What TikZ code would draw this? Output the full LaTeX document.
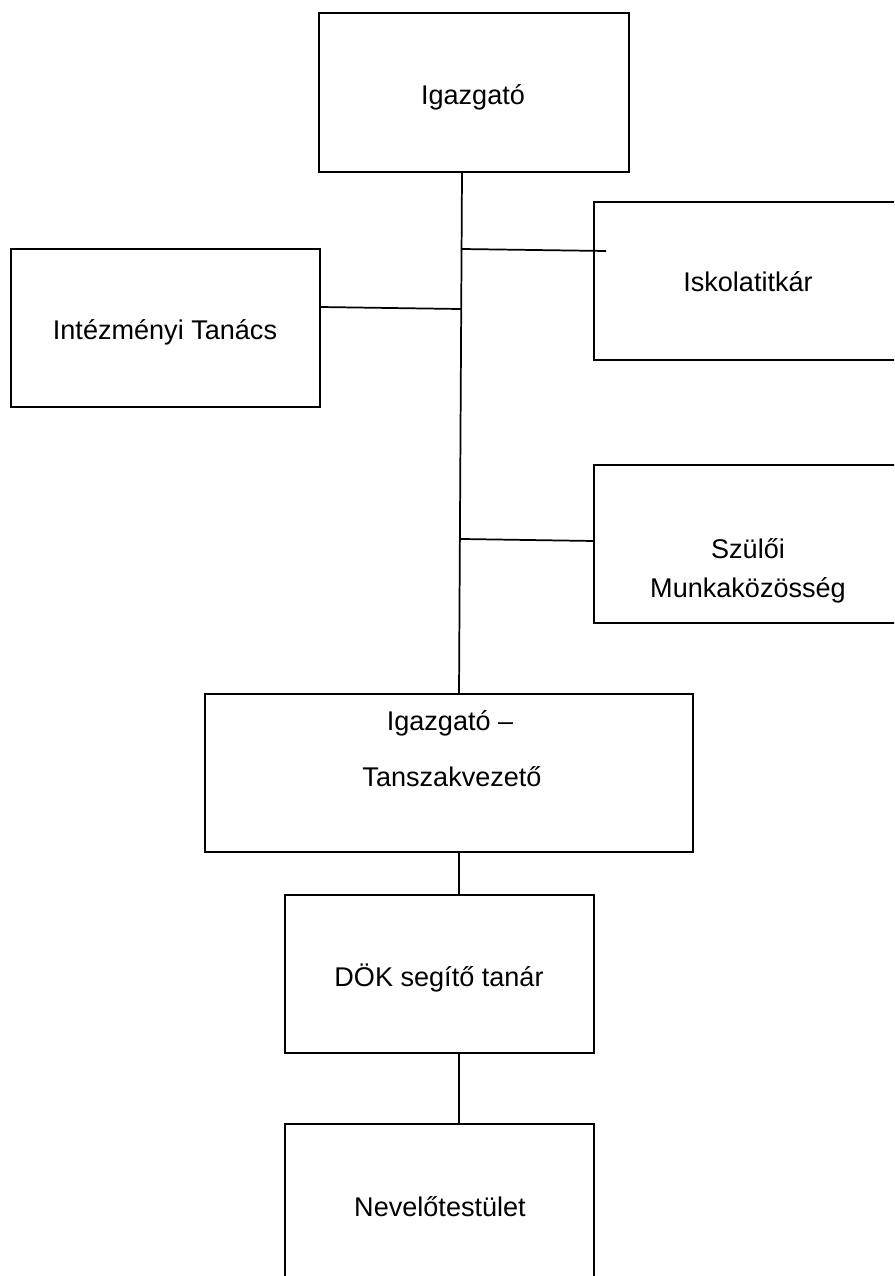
\documentclass[tikz,border=0pt]{standalone}
\usepackage{fontspec}
\setmainfont{Liberation Sans}
\begin{document}
\begin{tikzpicture}[x=0.75pt,y=-0.75pt,
  box/.style={draw, line width=1.3pt, anchor=north west, inner sep=0pt, outer sep=0pt, minimum height=118.5pt},
  lbl/.style={anchor=base, inner sep=0pt, font=\fontsize{20.3pt}{24pt}\selectfont},
  conn/.style={line width=1.3pt}]
\useasboundingbox (0,0) rectangle (894,1276);
\clip (0,0) rectangle (894,1276);
\fill[white] (0,0) rectangle (894,1276);
% boxes
\node[box, minimum width=232.5pt, minimum height=119.25pt] (igaz) at (319,13) {};
\node[box, minimum width=232.5pt] (isk) at (594,202) {};
\node[box, minimum width=231.75pt] (intez) at (11,249) {};
\node[box, minimum width=232.5pt] (szul) at (594,465) {};
\node[box, minimum width=366pt] (it) at (205,694) {};
\node[box, minimum width=231.75pt] (dok) at (285,895) {};
\node[box, minimum width=231.75pt] (nev) at (285,1124) {};
% labels
\node[lbl] (igazT) at (473,105) {Igazgató};
\node[lbl] (iskT) at (748,292) {Iskolatitkár};
\node[lbl] (intezT) at (165,340) {Intézményi Tanács};
\node[lbl] (szulT1) at (748,558) {Szülői};
\node[lbl] (szulT2) at (748,597) {Munkaközösség};
\node[lbl] (itT1) at (450,730) {Igazgató –};
\node[lbl] (itT2) at (452,786) {Tanszakvezető};
\node[lbl] (dokT) at (439,986) {DÖK segítő tanár};
\node[lbl] (nevT) at (440,1216) {Nevelőtestület};
% connectors
\draw[conn] ([xshift=-9pt]igaz.south) --
  coordinate[pos=0.1475] (bIsk)
  coordinate[pos=0.2625] (bInt)
  coordinate[pos=0.703] (bSzul)
  ([xshift=7.5pt]it.north);
\coordinate (iskEnd) at (606,251);
\draw[conn] (bIsk) -- (iskEnd);
\draw[conn] ([yshift=15.75pt]intez.east) -- (bInt);
\draw[conn] (bSzul) -- ([yshift=2.25pt]szul.west);
\draw[conn] ([xshift=7.5pt]it.south) -- ([xshift=7.5pt]it.south |- dok.north);
\draw[conn] ([xshift=14.6pt]dok.south) -- ([xshift=14.6pt]dok.south |- nev.north);
\end{tikzpicture}
\end{document}
